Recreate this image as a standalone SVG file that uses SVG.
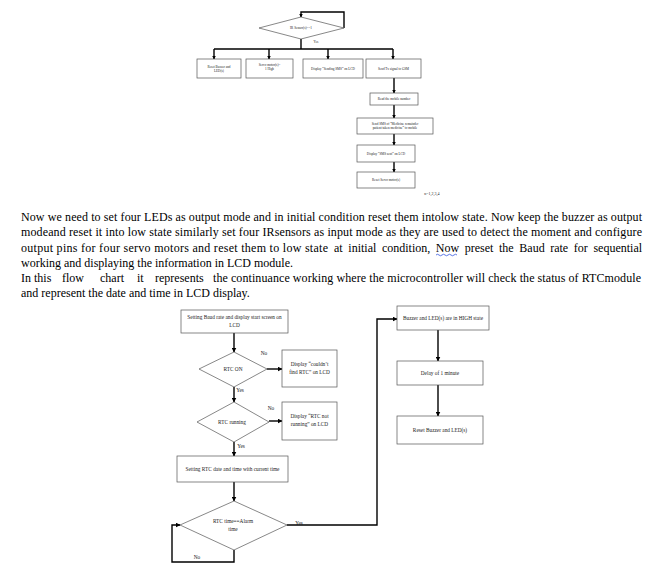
<svg xmlns="http://www.w3.org/2000/svg" width="657" height="577" viewBox="0 0 657 577">
<style>
.b{fill:#fff;stroke:#555;stroke-width:0.7}
.c{fill:none;stroke:#000;stroke-width:1.4}
.t3{font-family:"Liberation Serif",serif;font-size:3.3px;fill:#222;text-anchor:middle}
.t5{font-family:"Liberation Serif",serif;font-size:5.3px;fill:#222;text-anchor:middle}
.p{font-family:"Liberation Serif",serif;font-size:12px;fill:#000}
</style>
<defs>
<marker id="a" markerWidth="4" markerHeight="4" refX="3.5" refY="2" orient="auto" markerUnits="userSpaceOnUse"><path d="M0,0 L4,2 L0,4 Z" fill="#000"/></marker>
<marker id="a2" markerWidth="5" markerHeight="5" refX="4.5" refY="2.5" orient="auto" markerUnits="userSpaceOnUse"><path d="M0,0 L5,2.5 L0,5 Z" fill="#000"/></marker>
</defs>
<rect width="657" height="577" fill="#fff"/>

<g id="connectors">
<path class="c" d="M344,28 V12 H301 V17" marker-end="url(#a)"/>
<path class="c" d="M301,39 V49"/>
<path class="c" d="M214,49 H393"/>
<path class="c" d="M214,49 V59" marker-end="url(#a)"/>
<path class="c" d="M269,49 V59" marker-end="url(#a)"/>
<path class="c" d="M328,49 V59" marker-end="url(#a)"/>
<path class="c" d="M393,49 V59" marker-end="url(#a)"/>
<path class="c" d="M394,78 V93" marker-end="url(#a)"/>
<path class="c" d="M394,105 V118" marker-end="url(#a)"/>
<path class="c" d="M394,134 V145" marker-end="url(#a)"/>
<path class="c" d="M394,162 V172" marker-end="url(#a)"/>
<path class="c" d="M234,333 V352" marker-end="url(#a2)"/>
<path class="c" d="M267,369 H282" marker-end="url(#a2)"/>
<path class="c" d="M234,387 V402" marker-end="url(#a2)"/>
<path class="c" d="M269,421 H282" marker-end="url(#a2)"/>
<path class="c" d="M234,442 V456" marker-end="url(#a2)"/>
<path class="c" d="M234,482 V501" marker-end="url(#a2)"/>
<path class="c" d="M234,550 V562 H172 V525 H180" marker-end="url(#a2)"/>
<path class="c" d="M287,525 H377 V319 H397" marker-end="url(#a2)"/>
<path class="c" d="M438,330 V361" marker-end="url(#a2)"/>
<path class="c" d="M438,385 V416" marker-end="url(#a2)"/>
</g>

<g id="top-labels">
<text class="t3" x="316" y="43">Yes</text>
<text class="t3" x="432" y="195" style="font-size:4px">n=1,2,3,4</text>
</g>

<g id="n-ir">
<path class="b" d="M259,28 L301,17 L344,28 L301,39 Z"/>
<text class="t3" x="301" y="29">IR Sensor(s)==1</text>
</g>
<g id="n-reset-buzzer">
<rect class="b" x="197" y="59" width="44" height="19"/>
<text class="t3" x="219" y="67.5">Reset Buzzer and</text>
<text class="t3" x="219" y="72">LED(s)</text>
</g>
<g id="n-servo">
<rect class="b" x="246" y="59" width="47" height="19"/>
<text class="t3" x="269.5" y="65.5">Servo motor(s)=</text>
<text class="t3" x="269.5" y="70">1 High</text>
</g>
<g id="n-display-sending">
<rect class="b" x="303" y="59" width="60" height="19"/>
<text class="t3" x="333" y="69.5">Display “Sending SMS” on LCD</text>
</g>
<g id="n-send-tx">
<rect class="b" x="366" y="59" width="55" height="19"/>
<text class="t3" x="393.5" y="69.5">Send Tx signal to GSM</text>
</g>
<g id="n-read-mobile">
<rect class="b" x="370" y="93" width="48" height="12"/>
<text class="t3" x="394" y="100">Read the mobile number</text>
</g>
<g id="n-send-sms">
<rect class="b" x="357" y="118" width="76" height="16"/>
<text class="t3" x="395" y="124.5">Send SMS of “Medicine remainder</text>
<text class="t3" x="395" y="129">patient taken medicine” to mobile</text>
</g>
<g id="n-sms-sent">
<rect class="b" x="357" y="145" width="58" height="17"/>
<text class="t3" x="386" y="154.5">Display “SMS sent” on LCD</text>
</g>
<g id="n-reset-servo">
<rect class="b" x="357" y="172" width="58" height="16"/>
<text class="t3" x="386" y="181">Reset Servo motor(s)</text>
</g>

<g id="paragraph">
<text class="p" x="21" y="220.5" textLength="621" lengthAdjust="spacing">Now we need to set four LEDs as output mode and in initial condition reset them intolow state. Now keep the buzzer as output</text>
<text class="p" x="21" y="236" textLength="621" lengthAdjust="spacing">modeand reset it into low state similarly set four IRsensors as input mode as they are used to detect the moment and configure</text>
<text class="p" y="251.5"><tspan x="21" textLength="307" lengthAdjust="spacing">output pins for four servo motors and reset them to low state</tspan><tspan x="334">at</tspan><tspan x="348.3">initial</tspan><tspan x="381.9">condition,</tspan><tspan x="435.8">Now</tspan><tspan x="464.7">preset</tspan><tspan x="499">the</tspan><tspan x="519.3">Baud</tspan><tspan x="550.2">rate</tspan><tspan x="573.8">for</tspan><tspan x="593.4">sequential</tspan></text>
<text class="p" x="21" y="266.5">working and displaying the information in LCD module.</text>
<text class="p" y="281.5"><tspan x="21">In this</tspan><tspan x="62">flow</tspan><tspan x="100">chart</tspan><tspan x="137">it</tspan><tspan x="155">represents</tspan><tspan x="213" textLength="428" lengthAdjust="spacing">the continuance working where the microcontroller will check the status of RTCmodule</tspan></text>
<text class="p" x="21" y="296.5">and represent the date and time in LCD display.</text>
<path d="M436,255 q1.5,-1.5 3,0 t3,0 t3,0 t3,0 t3,0 t3,0 t3,0" fill="none" stroke="#3355dd" stroke-width="0.8"/>
</g>

<g id="bottom-labels">
<text class="t5" x="264" y="355">No</text>
<text class="t5" x="240" y="392">Yes</text>
<text class="t5" x="271" y="410">No</text>
<text class="t5" x="241" y="448">Yes</text>
<text class="t5" x="197" y="559">No</text>
<text class="t5" x="299" y="525">Yes</text>
</g>

<g id="n-baud">
<rect class="b" x="181" y="310" width="107" height="23"/>
<text class="t5" x="234.5" y="319">Setting Baud rate and display start screen on</text>
<text class="t5" x="234.5" y="326.5">LCD</text>
</g>
<g id="n-rtc-on">
<path class="b" d="M199,369 L234,352 L267,369 L234,387 Z"/>
<text class="t5" x="233" y="371">RTC ON</text>
</g>
<g id="n-couldnt">
<rect class="b" x="282" y="350" width="55" height="37"/>
<text class="t5" x="309.5" y="366">Display “couldn’t</text>
<text class="t5" x="309.5" y="373.5">find RTC” on LCD</text>
</g>
<g id="n-rtc-running">
<path class="b" d="M197,422 L234,402 L269,422 L234,442 Z"/>
<text class="t5" x="232" y="424">RTC running</text>
</g>
<g id="n-not-running">
<rect class="b" x="282" y="402" width="55" height="38"/>
<text class="t5" x="309.5" y="418">Display “RTC not</text>
<text class="t5" x="309.5" y="425.5">running” on LCD</text>
</g>
<g id="n-set-rtc">
<rect class="b" x="177" y="456" width="111" height="26"/>
<text class="t5" x="232.5" y="471">Setting RTC date and time with current time</text>
</g>
<g id="n-alarm">
<path class="b" d="M180,525 L234,501 L287,525 L234,550 Z"/>
<text class="t5" x="233" y="523">RTC time==Alarm</text>
<text class="t5" x="233" y="531">time</text>
</g>
<g id="n-high">
<rect class="b" x="397" y="306" width="92" height="24"/>
<text class="t5" x="443" y="320">Buzzer and LED(s) are in HIGH state</text>
</g>
<g id="n-delay">
<rect class="b" x="397" y="361" width="86" height="24"/>
<text class="t5" x="440" y="375">Delay of 1 minute</text>
</g>
<g id="n-reset-bl">
<rect class="b" x="397" y="416" width="86" height="28"/>
<text class="t5" x="440" y="432">Reset Buzzer and LED(s)</text>
</g>
</svg>
